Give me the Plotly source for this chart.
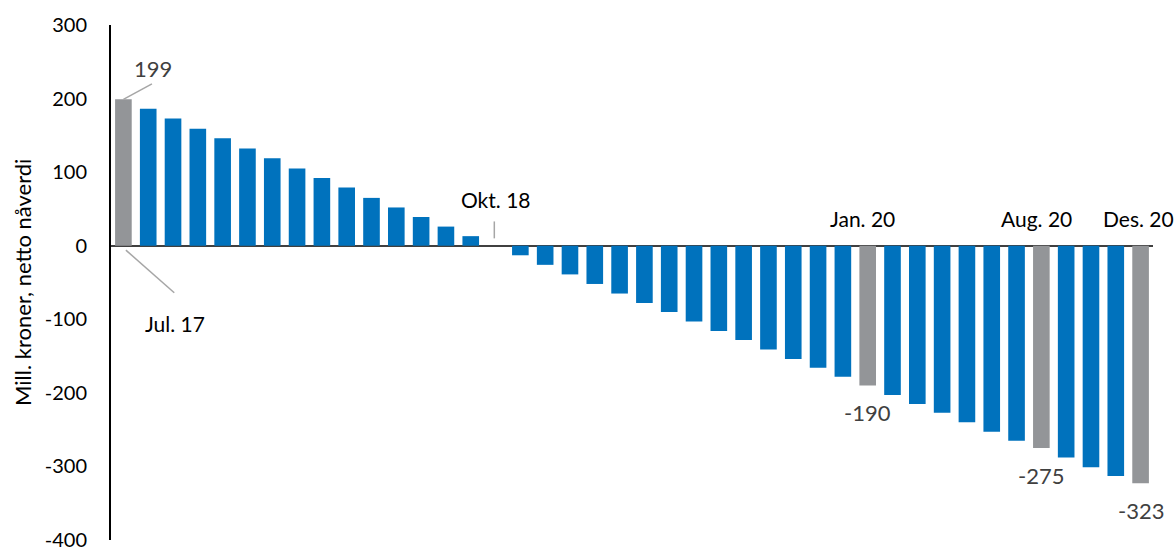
import plotly.graph_objects as go

# Monthly categories, Jul. 2017 - Des. 2020
month_abbr = ["Jan.", "Feb.", "Mar.", "Apr.", "Mai", "Jun.",
              "Jul.", "Aug.", "Sep.", "Okt.", "Nov.", "Des."]
categories = [f"{month_abbr[m]} {y}" for y in (17, 18, 19, 20) for m in range(12)
              if not (y == 17 and m < 6)]

# Net present value, million NOK
values = [199, 186, 173, 159, 146, 132, 119, 105, 92, 79, 65, 52, 39, 26, 13, 0,
          -13, -26, -39, -52, -65, -78, -90, -103, -116, -128, -141, -154, -166, -178,
          -190, -203, -215, -227, -240, -253, -265, -275, -288, -301, -313, -323]

highlighted = ["Jul. 17", "Jan. 20", "Aug. 20", "Des. 20"]
value_labels = ["Jul. 17", "Jan. 20", "Aug. 20", "Des. 20"]

y_ticks = [-400, -300, -200, -100, 0, 100, 200, 300]
y_ticktext = [str(v) for v in y_ticks]

BLUE = "#0072BD"
GREY = "#939598"
FONT = "Lato"

colors = [GREY if c in highlighted else BLUE for c in categories]
xi = list(range(len(categories)))

fig = go.Figure(go.Bar(
    x=xi, y=values,
    marker=dict(color=colors, line=dict(width=0)),
    width=0.67,
    hoverinfo="skip",
))

annotations = []
shapes = []

def idx(label):
    return categories.index(label)

# value label for the first month sits above-right with a leader line
first = idx("Jul. 17")
annotations.append(dict(x=first, y=values[first], text=str(values[first]),
                        showarrow=False, xshift=30, yshift=31,
                        font=dict(size=22, color="#404040")))
shapes.append(dict(type="line", x0=first, y0=values[first], x1=first + 1.15, y1=values[first] + 21,
                   line=dict(color="#A6A6A6", width=1.5)))

# date label for the first month below the axis with leader line
annotations.append(dict(x=first, y=0, text="Jul. 17", showarrow=False,
                        xshift=52, yshift=-78, font=dict(size=21, color="#000000")))
shapes.append(dict(type="line", x0=first + 0.1, y0=-6, x1=first + 2.05, y1=-64,
                   line=dict(color="#A6A6A6", width=1.5)))

# zero crossing marker
okt = idx("Okt. 18")
annotations.append(dict(x=okt, y=0, text="Okt. 18", showarrow=False,
                        yshift=46, font=dict(size=21, color="#000000")))
shapes.append(dict(type="line", x0=okt - 0.05, y0=10, x1=okt - 0.05, y1=33,
                   line=dict(color="#A6A6A6", width=1.5)))

# date labels above the zero line for the later highlighted months
for lab, dx in (("Jan. 20", -5), ("Aug. 20", -5), ("Des. 20", -2)):
    annotations.append(dict(x=idx(lab), y=0, text=lab, showarrow=False,
                            xshift=dx, yshift=27, font=dict(size=21, color="#000000")))

# value labels below the negative highlighted bars
for lab in value_labels[1:]:
    i = idx(lab)
    annotations.append(dict(x=i, y=values[i], text=str(values[i]), showarrow=False,
                            yshift=-27, font=dict(size=22, color="#404040")))

# y-axis title
annotations.append(dict(xref="paper", yref="paper", x=-0.085, y=0.5,
                        xanchor="center", yanchor="middle",
                        text="Mill. kroner, netto nåverdi", textangle=-90,
                        showarrow=False, font=dict(size=22, color="#000000")))

fig.update_layout(
    width=1175, height=549,
    margin=dict(l=111, r=22, t=25, b=9),
    paper_bgcolor="white", plot_bgcolor="white",
    font=dict(family=FONT, color="#000000"),
    showlegend=False,
    bargap=0.33,
    annotations=annotations,
    shapes=shapes,
    xaxis=dict(range=[-0.5, len(categories) - 0.5], showticklabels=False,
               showgrid=False, zeroline=False, showline=False, ticks="",
               automargin=False),
    yaxis=dict(range=[-400, 300], tickvals=y_ticks, ticktext=y_ticktext,
               showgrid=False, automargin=False,
               zeroline=True, zerolinecolor="#404040", zerolinewidth=2,
               showline=True, linecolor="#000000", linewidth=2,
               ticks="", ticklabelstandoff=18, ticklabeloverflow="allow",
               tickfont=dict(size=20, color="#000000")),
)

fig.write_html("out.html")
